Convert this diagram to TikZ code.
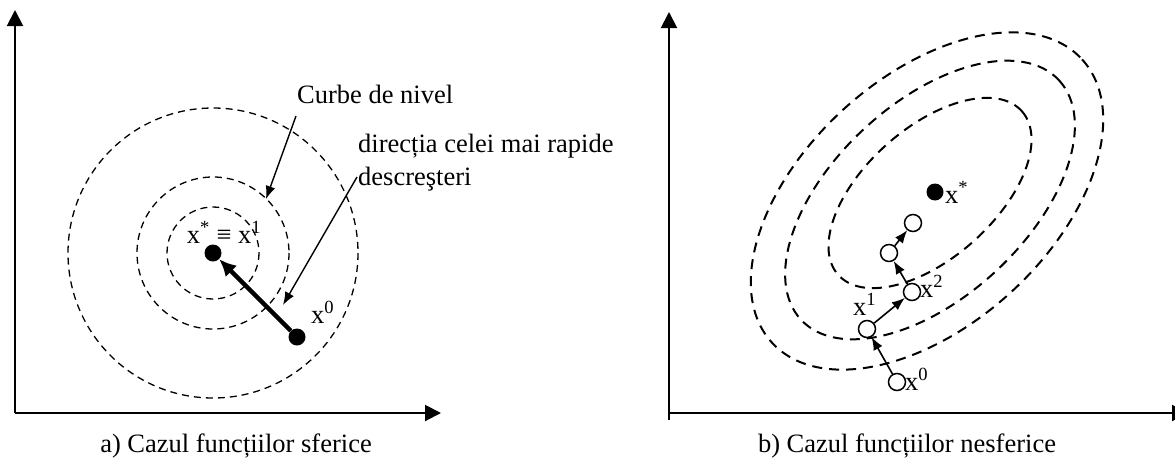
\documentclass[tikz,border=0pt]{standalone}
\usepackage{fontspec}
\setmainfont{Liberation Serif}
\usetikzlibrary{arrows.meta, positioning}

\begin{document}
\begin{tikzpicture}[x=1pt, y=-1pt,
  lbl/.style={font=\fontsize{26.5pt}{33pt}\selectfont, inner sep=0pt},
  dotb/.style={circle, fill=black, inner sep=0pt, minimum size=17pt},
  doto/.style={circle, draw=black, fill=white, line width=1.5pt, inner sep=0pt, minimum size=17pt},
  axis/.style={line width=2pt, -{Triangle[length=16pt, width=16pt]}},
  contour/.style={dash pattern=on 7pt off 5pt, line width=1.3pt},
  contourb/.style={dash pattern=on 10pt off 7pt, line width=2pt},
  pointer/.style={line width=1.4pt, -{Latex[length=13pt, width=10pt]}},
  steparr/.style={line width=1.6pt, -{Latex[length=13pt, width=10pt]}},
  gradarr/.style={line width=4.5pt, -{Latex[length=17pt, width=16pt]}}]
\useasboundingbox (0,0) rectangle (1175,461);

% a) spherical case: axes
\coordinate (oa) at (15,413);
\draw[axis] (oa) -- (15,10);
\draw[axis] (oa) -- (441,413);

% level curves (circles)
\foreach \r in {46,76,145}
  \draw[contour] (213,253) circle [radius=\r];

% points and steepest descent step
\node[dotb] (xsa) at (213,253) {};
\node[dotb] (x0a) at (297,337) {};
\draw[gradarr] (x0a) -- (xsa);
\node[lbl, anchor=base] (lxsa) at (224,243) {x\textsuperscript{*} ≡ x\textsuperscript{1}};
\node[lbl, anchor=base west] (lx0a) at (311,323) {x\textsuperscript{0}};

% annotations
\node[lbl, anchor=base west] (curbe) at (297,103) {Curbe de nivel};
\coordinate (curbetail) at (296,116);
\coordinate (curbetip) at (266,199);
\draw[pointer] (curbetail) -- (curbetip);

\node[lbl, anchor=north west, align=left] (directia) at (358,134) {direcția celei mai rapide\\descreşteri};
\coordinate (dirtail) at (357,177);
\coordinate (dirtip) at (283,305);
\draw[pointer] (dirtail) -- (dirtip);

\node[lbl, anchor=base] (capa) at (236,452) {a) Cazul funcțiilor sferice};

% b) non-spherical case: axes
\coordinate (ob) at (669,413);
\draw[axis] (669,420) -- (669,12);
\draw[axis] (ob) -- (1188,413);

% level curves (tilted ellipses)
\draw[contourb, rotate around={41.7:(930,193)}] (930,193) ellipse [x radius=123, y radius=65];
\draw[contourb, rotate around={42.9:(930,200)}] (930,200) ellipse [x radius=176, y radius=97];
\draw[contourb, rotate around={42.4:(927,201)}] (927,201) ellipse [x radius=210, y radius=124];

% minimum and iterates
\node[dotb] (xsb) at (935,192) {};
\node[lbl, anchor=base west] (lxsb) at (945,203) {x\textsuperscript{*}};
\node[doto] (x0b) at (897,382) {};
\node[doto] (x1b) at (867,329) {};
\node[doto] (x2b) at (912,292) {};
\node[doto] (x3b) at (889,253) {};
\node[doto] (x4b) at (913,223) {};
\draw[steparr] (x0b) -- (x1b);
\draw[steparr] (x1b) -- (x2b);
\draw[steparr] (x2b) -- (x3b);
\draw[steparr] (x3b) -- (x4b);
\node[lbl, anchor=base west] (lx0b) at (905,390) {x\textsuperscript{0}};
\node[lbl, anchor=base west] (lx1b) at (853,315) {x\textsuperscript{1}};
\node[lbl, anchor=base west] (lx2b) at (920,297) {x\textsuperscript{2}};

\node[lbl, anchor=base] (capb) at (907,452) {b) Cazul funcțiilor nesferice};
\end{tikzpicture}
\end{document}
